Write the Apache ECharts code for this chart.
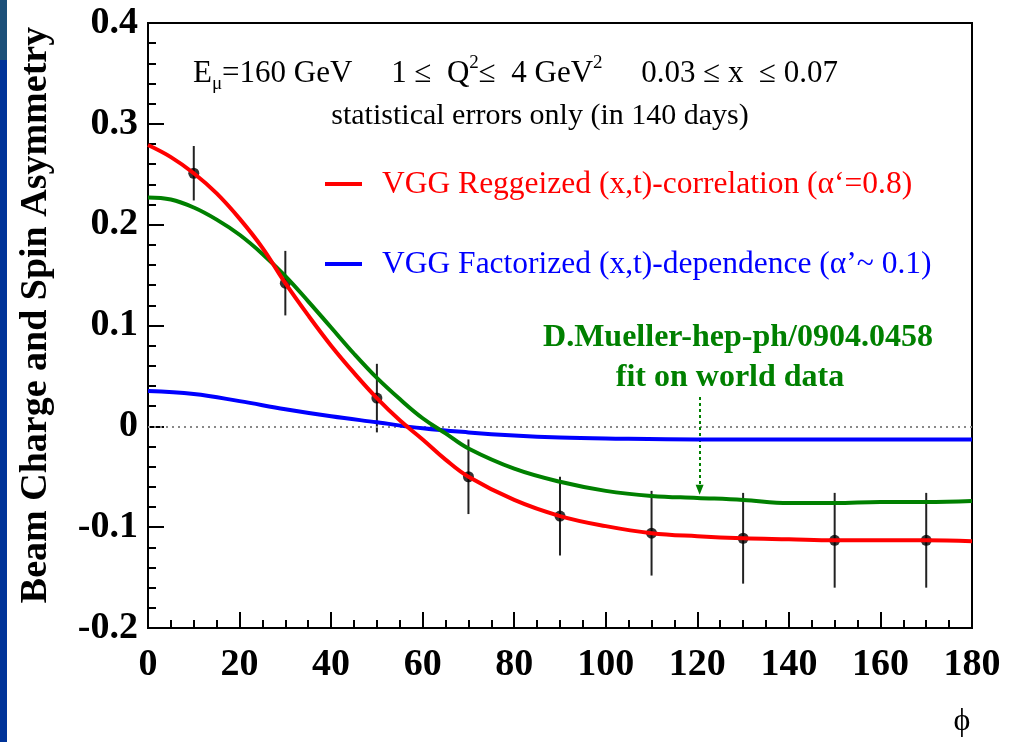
<!DOCTYPE html>
<html>
<head>
<meta charset="utf-8">
<script src="https://cdn.jsdelivr.net/npm/echarts@6/dist/echarts.min.js"></script>
<style>html,body{margin:0;padding:0;background:#fff;}#c{width:1019px;height:742px;}</style>
</head>
<body>
<div id="c"></div>
<script>
// ---- data ----
var pointsX = [10, 30, 50, 70, 90, 110, 130, 150, 170];
var pointsY = [0.251, 0.142, 0.028, -0.050, -0.089, -0.106, -0.111, -0.113, -0.113];
var pointsErr = [0.027, 0.032, 0.034, 0.037, 0.039, 0.042, 0.045, 0.047, 0.047];

var redX = [0, 5, 10, 15, 20, 25, 30, 35, 40, 45, 50, 55, 60, 65, 70, 80, 90, 100, 110, 120, 130, 140, 150, 160, 170, 180];
var redY = [0.279, 0.267, 0.251, 0.231, 0.206, 0.177, 0.142, 0.110, 0.080, 0.053, 0.028, 0.006, -0.013, -0.033, -0.050, -0.073, -0.089, -0.099, -0.106, -0.109, -0.111, -0.112, -0.113, -0.113, -0.113, -0.114];

var greenX = [0, 5, 10, 15, 20, 25, 30, 35, 40, 45, 50, 55, 60, 65, 70, 80, 90, 100, 110, 120, 130, 140, 150, 160, 170, 180];
var greenY = [0.227, 0.225, 0.217, 0.205, 0.190, 0.171, 0.149, 0.124, 0.098, 0.072, 0.048, 0.027, 0.008, -0.007, -0.022, -0.042, -0.055, -0.064, -0.069, -0.071, -0.073, -0.076, -0.076, -0.075, -0.075, -0.074];

var blueX = [0, 10, 20, 30, 40, 50, 60, 70, 80, 90, 100, 120, 140, 160, 180];
var blueY = [0.035, 0.032, 0.025, 0.017, 0.010, 0.004, -0.002, -0.006, -0.009, -0.011, -0.012, -0.013, -0.013, -0.013, -0.013];

var arrowX = 120.5;
var arrowY = [0.029, -0.063];

var xTicks = [0, 20, 40, 60, 80, 100, 120, 140, 160, 180];
var yTicks = [-0.2, -0.1, 0, 0.1, 0.2, 0.3, 0.4];

function zip(a, b) { return a.map(function (v, i) { return [v, b[i]]; }); }

var serif = '"Liberation Serif", "DejaVu Serif", serif';
var chart = echarts.init(document.getElementById('c'));

var richHead = {
  a: { font: '31px ' + serif, fill: '#000', lineHeight: 40, verticalAlign: 'middle' },
  s: { font: '19px ' + serif, fill: '#000', lineHeight: 40, verticalAlign: 'bottom' },
  p: { font: '19px ' + serif, fill: '#000', lineHeight: 40, verticalAlign: 'top' }
};

var option = {
  animation: false,
  backgroundColor: '#ffffff',
  grid: { left: 148, right: 47, top: 23, bottom: 114, show: true, borderColor: '#000', borderWidth: 2, backgroundColor: 'transparent' },
  xAxis: {
    type: 'value', min: 0, max: 180, interval: 20,
    axisLine: { show: true, onZero: false, lineStyle: { color: '#000', width: 2 } },
    axisTick: { show: true, inside: true, length: 16, lineStyle: { color: '#000', width: 2 } },
    minorTick: { show: true, splitNumber: 4, length: 8, lineStyle: { color: '#000', width: 2 } },
    splitLine: { show: false },
    axisLabel: { color: '#000', fontFamily: serif, fontWeight: 'bold', fontSize: 38, margin: 18,
      formatter: function (v) { return xTicks.indexOf(v) >= 0 ? String(v) : ''; } }
  },
  yAxis: {
    type: 'value', min: -0.2, max: 0.4, interval: 0.1,
    axisLine: { show: true, onZero: false, lineStyle: { color: '#000', width: 2 } },
    axisTick: { show: true, inside: true, length: 16, lineStyle: { color: '#000', width: 2 } },
    minorTick: { show: true, splitNumber: 5, length: 8, lineStyle: { color: '#000', width: 2 } },
    splitLine: { show: false },
    axisLabel: { color: '#000', fontFamily: serif, fontWeight: 'bold', fontSize: 38, margin: 10,
      formatter: function (v) { var r = Math.round(v * 10) / 10; return r === 0 ? '0' : r.toFixed(1); } }
  },
  graphic: [
    { type: 'rect', left: 0, top: 0, shape: { width: 7, height: 60 }, style: { fill: '#1d5079' }, z: 100 },
    { type: 'rect', left: 0, top: 60, shape: { width: 7, height: 682 }, style: { fill: '#003399' }, z: 100 },
    { type: 'text', x: 36, y: 315, rotation: Math.PI / 2, z: 100,
      style: { text: 'Beam Charge and Spin Asymmetry', fill: '#000', font: 'bold 38px ' + serif, textAlign: 'center', textVerticalAlign: 'middle' } },
    { type: 'text', x: 962, y: 722, z: 100,
      style: { text: 'ϕ', fill: '#000', font: '32px ' + serif, textAlign: 'center', textVerticalAlign: 'middle' } },
    { type: 'text', x: 193, y: 74, z: 100,
      style: { text: '{a|E}{s|μ}{a|=160 GeV     1 ≤  Q}{p|2}{a|≤  4 GeV}{p|2}{a|     0.03 ≤ x  ≤ 0.07}', rich: richHead, textVerticalAlign: 'middle' } },
    { type: 'text', x: 540, y: 116, z: 100,
      style: { text: 'statistical errors only (in 140 days)', fill: '#000', font: '30px ' + serif, textAlign: 'center', textVerticalAlign: 'middle' } },
    { type: 'line', z: 100, shape: { x1: 325, y1: 184, x2: 362, y2: 184 }, style: { stroke: '#ff0000', lineWidth: 4 } },
    { type: 'text', x: 382, y: 185, z: 100,
      style: { text: 'VGG Reggeized (x,t)-correlation (α‘=0.8)', fill: '#ff0000', font: '31.5px ' + serif, textVerticalAlign: 'middle' } },
    { type: 'line', z: 100, shape: { x1: 325, y1: 264, x2: 362, y2: 264 }, style: { stroke: '#0000ff', lineWidth: 4 } },
    { type: 'text', x: 382, y: 265, z: 100,
      style: { text: 'VGG Factorized (x,t)-dependence (α’~ 0.1)', fill: '#0000ff', font: '31.5px ' + serif, textVerticalAlign: 'middle' } },
    { type: 'text', x: 738, y: 338, z: 100,
      style: { text: 'D.Mueller-hep-ph/0904.0458', fill: '#008000', font: 'bold 32px ' + serif, textAlign: 'center', textVerticalAlign: 'middle' } },
    { type: 'text', x: 730, y: 378, z: 100,
      style: { text: 'fit on world data', fill: '#008000', font: 'bold 32px ' + serif, textAlign: 'center', textVerticalAlign: 'middle' } }
  ],
  series: [
    { type: 'line', data: [], silent: true,
      markLine: { silent: true, symbol: 'none', label: { show: false },
        lineStyle: { color: '#888', type: [2, 4], width: 2 },
        data: [{ yAxis: 0 }] } },
    { type: 'line', data: [], silent: true,
      markLine: { silent: true, symbol: ['none', 'triangle'], symbolSize: [8, 10], label: { show: false },
        lineStyle: { color: '#008000', type: [3, 3], width: 2 },
        data: [[{ coord: [arrowX, arrowY[0]] }, { coord: [arrowX, arrowY[1]] }]] } },
    { type: 'custom', z: 3,
      renderItem: function (params, api) {
        var x = api.value(0), y = api.value(1), e = api.value(2);
        var p1 = api.coord([x, y + e]), p2 = api.coord([x, y - e]);
        return { type: 'line', shape: { x1: p1[0], y1: p1[1], x2: p2[0], y2: p2[1] }, style: { stroke: '#222', lineWidth: 2 } };
      },
      data: pointsX.map(function (v, i) { return [v, pointsY[i], pointsErr[i]]; }) },
    { type: 'scatter', z: 4, symbol: 'circle', symbolSize: 11, itemStyle: { color: '#000' }, data: zip(pointsX, pointsY) },
    { type: 'line', z: 5, smooth: 0.4, showSymbol: false, lineStyle: { color: '#0000ff', width: 4 }, data: zip(blueX, blueY) },
    { type: 'line', z: 5, smooth: 0.4, showSymbol: false, lineStyle: { color: '#008000', width: 4 }, data: zip(greenX, greenY) },
    { type: 'line', z: 6, smooth: 0.4, showSymbol: false, lineStyle: { color: '#ff0000', width: 4 }, data: zip(redX, redY) }
  ]
};
chart.setOption(option);
</script>
</body>
</html>
